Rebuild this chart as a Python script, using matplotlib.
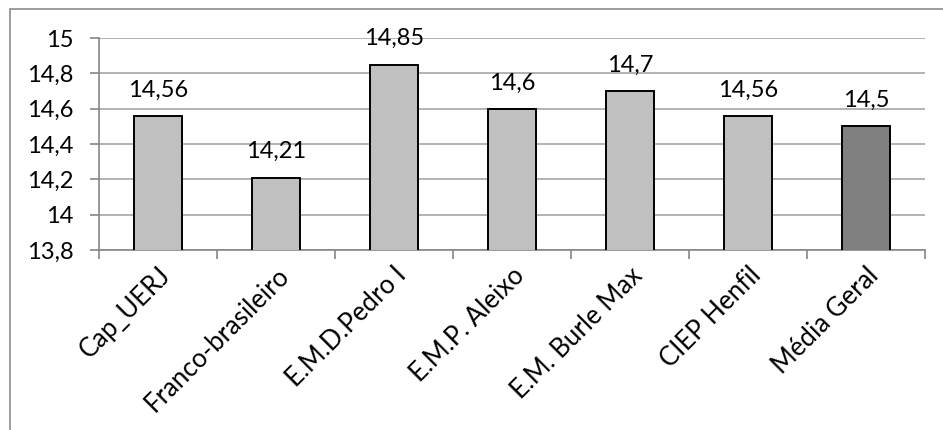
import matplotlib
matplotlib.use("Agg")
import matplotlib.pyplot as plt
from matplotlib.ticker import FuncFormatter, MultipleLocator
from matplotlib.patches import Rectangle

categories = ["Cap_UERJ", "Franco-brasileiro", "E.M.D.Pedro I", "E.M.P. Aleixo",
              "E.M. Burle Max", "CIEP Henfil", "Média Geral"]
values = [14.56, 14.21, 14.85, 14.6, 14.7, 14.56, 14.5]
value_labels = ["14,56", "14,21", "14,85", "14,6", "14,7", "14,56", "14,5"]
bar_colors = ["#c0c0c0"] * 6 + ["#808080"]

plt.rcParams['font.family'] = ['Lato', 'DejaVu Sans']

fig = plt.figure(figsize=(9.43, 4.30), dpi=100)
ax = fig.add_axes([0.105, 0.4186, 0.876, 0.493])

x = list(range(len(categories)))
bars = ax.bar(x, values, width=0.41, bottom=0, color=bar_colors,
              edgecolor="#000000", linewidth=1.4, zorder=3)
ax.set_ylim(13.8, 15)
ax.set_xlim(-0.5, len(categories) - 0.5)

for xi, v, lab in zip(x, values, value_labels):
    ax.annotate(lab, (xi, v), xytext=(0, 11), textcoords="offset points",
                ha="center", va="bottom", fontsize=17, color="#000000")

ax.yaxis.set_major_locator(MultipleLocator(0.2))
ax.yaxis.set_major_formatter(FuncFormatter(lambda v, p: (f"{v:.1f}".rstrip("0").rstrip(".")).replace(".", ",")))
ax.grid(axis="y", color="#a6a6a6", linewidth=1.2, zorder=0)
ax.set_axisbelow(True)

for s in ["top", "right"]:
    ax.spines[s].set_visible(False)
ax.spines["left"].set_color("#868686")
ax.spines["bottom"].set_color("#868686")
ax.spines["left"].set_linewidth(1.2)
ax.spines["bottom"].set_linewidth(1.2)

ax.set_xticks(x)
ax.set_xticklabels(categories, rotation=45, ha="right", rotation_mode="anchor",
                   fontsize=18.5)
ax.tick_params(axis="x", length=0, pad=9)
ax.set_xticks([i - 0.5 for i in range(len(categories) + 1)], minor=True)
ax.tick_params(axis="x", which="minor", length=6.5, color="#868686", width=1.2)
ax.tick_params(axis="y", length=6.5, color="#868686", width=1.2, labelsize=17, pad=12)

# outer chart border (top and left visible)
fig.patches.append(Rectangle((10/943, -0.1), 1.2, 1.1 - 9/430, transform=fig.transFigure,
                             fill=False, edgecolor="#8c8c8c", linewidth=1.2))

fig.savefig("out.png", dpi=100)
